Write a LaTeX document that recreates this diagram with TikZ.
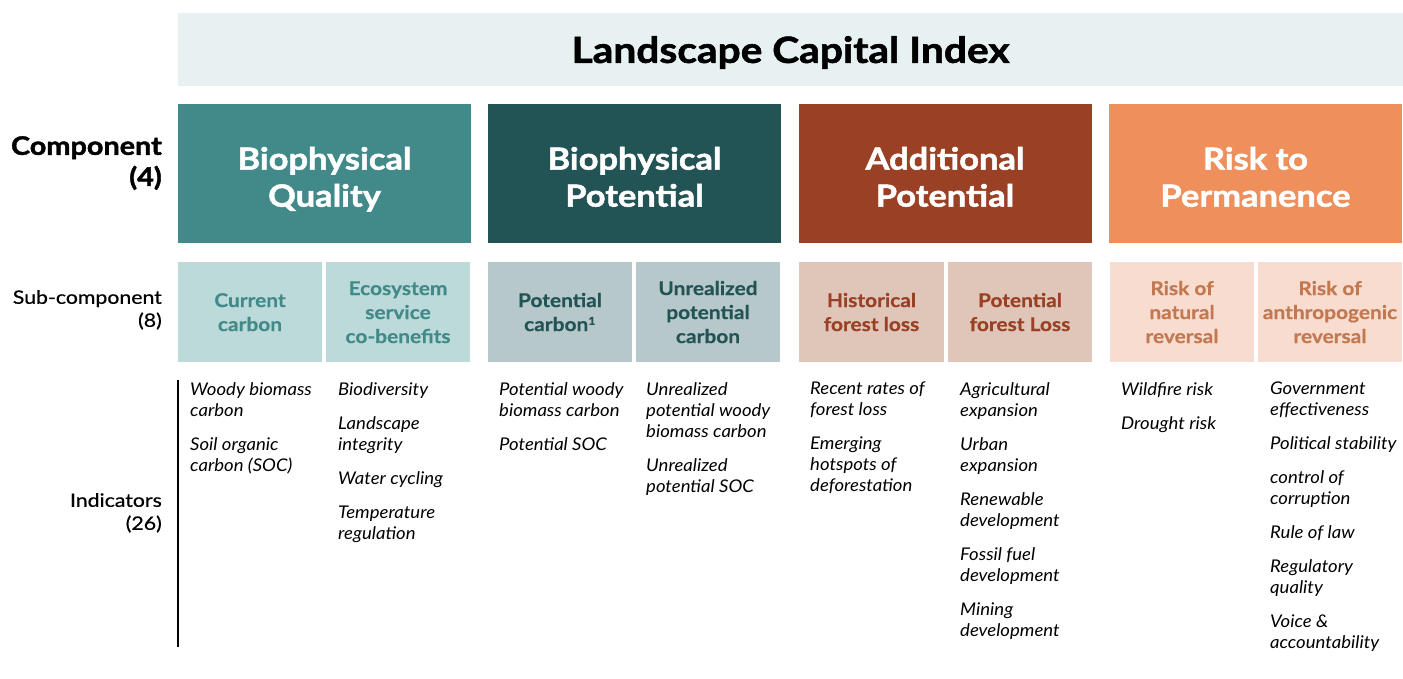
\documentclass[tikz,border=0pt]{standalone}
\usepackage{fontspec}
\setmainfont{Lato}[FakeStretch=1.06]
% heavy, slightly extended face for headings and a medium face for row labels
\newfontfamily\headfont{Lato}[FakeStretch=1.13, BoldFeatures={FakeBold=1.6}]
\newfontfamily\subfont{Lato}[FakeStretch=1.1, BoldFeatures={FakeBold=0.4}]
\newfontfamily\medfont{Lato}[FakeStretch=1.15, FakeBold=0.6]
\definecolor{titlebg}{HTML}{E8F1F2}
\definecolor{compA}{HTML}{428A8A}
\definecolor{compB}{HTML}{225355}
\definecolor{compC}{HTML}{9A4024}
\definecolor{compD}{HTML}{EE8F5C}
\definecolor{subA}{HTML}{BCDADA}
\definecolor{subB}{HTML}{B7C8CA}
\definecolor{subC}{HTML}{E0C5B9}
\definecolor{subD}{HTML}{F7DCCF}
\definecolor{subDtext}{HTML}{C37850}
\tikzset{
  compbox/.style={rectangle, inner sep=0pt, minimum width=293pt, minimum height=139.5pt},
  comptext/.style={inner sep=0pt, text=white, align=center,
    font=\headfont\bfseries\fontsize{30.5}{37}\selectfont, yshift=-7pt},
  subbox/.style={rectangle, inner sep=0pt, minimum width=144pt, minimum height=99.5pt},
  subtext/.style={inner sep=0pt, align=center,
    font=\subfont\bfseries\fontsize{19}{24}\selectfont, yshift=-2.5pt},
  indic/.style={anchor=north west, inner sep=0pt, align=left,
    font=\itshape\fontsize{17.5}{21}\selectfont},
  rowlabel/.style={anchor=north east, inner sep=0pt, align=right},
}
\newcommand{\gap}{\\[13pt]}
\begin{document}
\begin{tikzpicture}[x=1pt, y=-1pt]
\useasboundingbox (0,0) rectangle (1403,679);

% index title band
\node[rectangle, fill=titlebg, minimum width=1225pt, minimum height=73pt, inner sep=0pt] (title) at (790.5,49.5) {};
\node[inner sep=0pt, font=\headfont\bfseries\fontsize{36}{40}\selectfont, yshift=-3pt] (titletext) at (title.center) {Landscape Capital Index};

% row labels
\node[rowlabel, font=\headfont\bfseries\fontsize{25.5}{31}\selectfont] (lcomp) at (162,136) {Component\\(4)};
\node[rowlabel, font=\medfont\fontsize{18.5}{23}\selectfont] (lsub) at (162,290) {Sub-component\\(8)};
\node[rowlabel, font=\medfont\fontsize{18.5}{23}\selectfont] (lind) at (162,493) {Indicators\\(26)};

% components
\node[compbox, fill=compA] (cA) at (324.5,173.75) {};
\node[compbox, fill=compB] (cB) at (634.5,173.75) {};
\node[compbox, fill=compC] (cC) at (945,173.75) {};
\node[compbox, fill=compD] (cD) at (1255.5,173.75) {};
\node[comptext] (tA) at (cA.center) {\strut Biophysical\\Quality\strut};
\node[comptext] (tB) at (cB.center) {\strut Biophysical\\Potential\strut};
\node[comptext] (tC) at (cC.center) {\strut Additional\\Potential\strut};
\node[comptext] (tD) at (cD.center) {\strut Risk to\\Permanence\strut};

% sub-components
\node[subbox, fill=subA] (sA1) at (250,311.75) {};
\node[subbox, fill=subA] (sA2) at (398,311.75) {};
\node[subbox, fill=subB] (sB1) at (560,311.75) {};
\node[subbox, fill=subB] (sB2) at (708,311.75) {};
\node[subbox, fill=subC, minimum width=145pt] (sC1) at (871.5,311.75) {};
\node[subbox, fill=subC] (sC2) at (1020,311.75) {};
\node[subbox, fill=subD] (sD1) at (1182,311.75) {};
\node[subbox, fill=subD] (sD2) at (1330,311.75) {};
\node[subtext, text=compA] (uA1) at (sA1.center) {\strut Current\\carbon\strut};
\node[subtext, text=compA] (uA2) at (sA2.center) {\strut Ecosystem\\service\\co-benefits\strut};
\node[subtext, text=compB] (uB1) at (sB1.center) {\strut Potential\\carbon\textsuperscript{\fontsize{11}{11}\selectfont 1}\strut};
\node[subtext, text=compB] (uB2) at (sB2.center) {\strut Unrealized\\potential\\carbon\strut};
\node[subtext, text=compC] (uC1) at (sC1.center) {\strut Historical\\forest loss\strut};
\node[subtext, text=compC] (uC2) at (sC2.center) {\strut Potential\\forest Loss\strut};
\node[subtext, text=subDtext] (uD1) at (sD1.center) {\strut Risk of\\natural\\reversal\strut};
\node[subtext, text=subDtext] (uD2) at (sD2.center) {\strut Risk of\\anthropogenic\\reversal\strut};

% indicators
\coordinate (ltop) at (178,380);
\coordinate (lbot) at (178,647);
\draw[line width=1.2pt] (ltop) -- (lbot);

\node[indic] (iA1) at (190,382) {Woody biomass\\carbon\gap Soil organic\\carbon (SOC)};
\node[indic] (iA2) at (338,382) {Biodiversity\gap Landscape\\integrity\gap Water cycling\gap Temperature\\regulation};
\node[indic] (iB1) at (499,382) {Potential woody\\biomass carbon\gap Potential SOC};
\node[indic] (iB2) at (646,382) {Unrealized\\potential woody\\biomass carbon\gap Unrealized\\potential SOC};
\node[indic] (iC1) at (810,382) {Recent rates of\\forest loss\gap Emerging\\hotspots of\\deforestation};
\node[indic] (iC2) at (960,382) {Agricultural\\expansion\gap Urban\\expansion\gap Renewable\\development\gap Fossil fuel\\development\gap Mining\\development};
\node[indic] (iD1) at (1121,382) {Wildfire risk\gap Drought risk};
\node[indic] (iD2) at (1270,382) {Government\\effectiveness\gap Political stability\gap control of\\corruption\gap Rule of law\gap Regulatory\\quality\gap Voice \&\\accountability};
\end{tikzpicture}
\end{document}
